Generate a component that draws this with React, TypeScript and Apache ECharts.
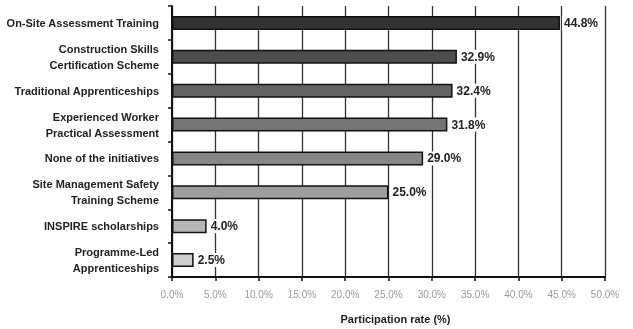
import React, { useEffect, useRef } from "react";
import * as echarts from "echarts";

const categories = [
  "On-Site Assessment Training",
  "Construction Skills\nCertification Scheme",
  "Traditional Apprenticeships",
  "Experienced Worker\nPractical Assessment",
  "None of the initiatives",
  "Site Management Safety\nTraining Scheme",
  "INSPIRE scholarships",
  "Programme-Led\nApprenticeships",
];
const values = [44.8, 32.9, 32.4, 31.8, 29.0, 25.0, 4.0, 2.5];
const barColors = ["#333333", "#4d4d4d", "#636363", "#747474", "#868686", "#9e9e9e", "#b6b6b6", "#cecece"];
const axisTitle = "Participation rate (%)";

const FONT = "'Liberation Sans', Arial, sans-serif";

export default function App() {
  const ref = useRef<HTMLDivElement>(null);
  useEffect(() => {
    if (!ref.current) return;
    const chart = echarts.init(ref.current, null, { renderer: "svg" });
    chart.setOption({
      animation: false,
      grid: { left: 172, right: 28, top: 6, bottom: 52, containLabel: false },
      xAxis: {
        type: "value",
        min: 0,
        max: 50,
        interval: 5,
        name: axisTitle,
        nameLocation: "middle",
        nameGap: 36,
        nameTextStyle: {
          fontFamily: FONT,
          fontWeight: "bold",
          fontSize: 11,
          color: "#222",
          padding: [0, 0, 0, 14],
        },
        axisLine: { show: true, lineStyle: { color: "#111", width: 2 } },
        axisTick: { show: true, length: 4, lineStyle: { color: "#111", width: 1.5 } },
        axisLabel: {
          formatter: (v: number) => v.toFixed(1) + "%",
          fontFamily: FONT,
          fontSize: 10,
          color: "#999",
          margin: 12,
        },
        splitLine: { show: true, lineStyle: { color: "#333", width: 1.3 } },
      },
      yAxis: {
        type: "category",
        data: categories,
        inverse: true,
        axisLine: { show: true, lineStyle: { color: "#111", width: 2 } },
        axisTick: { show: true, length: 4, lineStyle: { color: "#111", width: 1.5 } },
        axisLabel: {
          fontFamily: FONT,
          fontWeight: "bold",
          fontSize: 11,
          color: "#222",
          margin: 13,
          lineHeight: 16,
          align: "right",
        },
        splitLine: { show: false },
      },
      series: [
        {
          type: "bar",
          data: values.map((v, i) => ({
            value: v,
            itemStyle: { color: barColors[i] },
          })),
          barWidth: 14,
          itemStyle: { borderColor: "#111", borderWidth: 1.5 },
          label: {
            show: true,
            position: "right",
            distance: 2,
            formatter: (p: any) => p.value.toFixed(1) + "%",
            fontFamily: FONT,
            fontWeight: "bold",
            fontSize: 12,
            color: "#222",
            backgroundColor: "#fff",
            padding: [1, 2, 1, 2],
          },
        },
      ],
    });
    return () => chart.dispose();
  }, []);
  return (
    <div
      ref={ref}
      style={{ position: "fixed", left: 0, top: 0, width: 633, height: 329 }}
    />
  );
}
